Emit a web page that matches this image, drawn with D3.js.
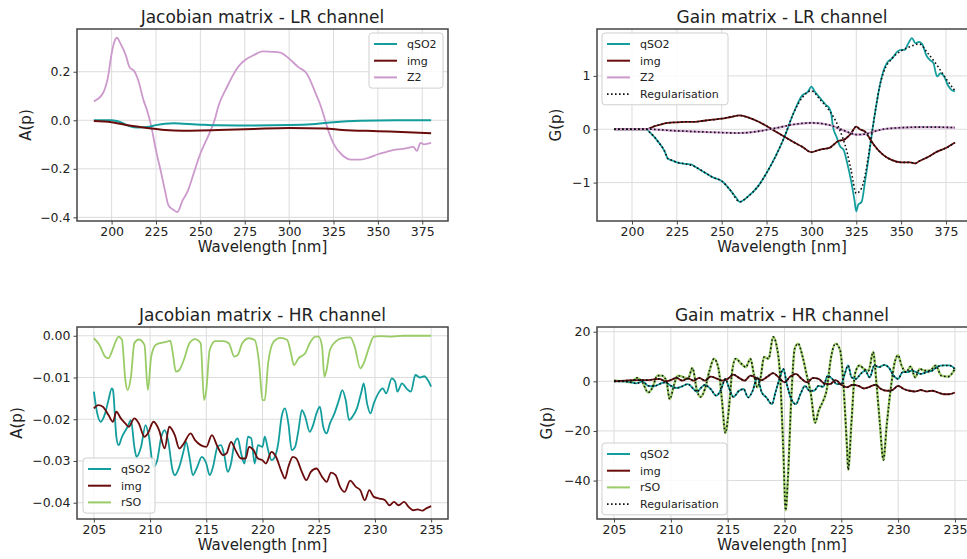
<!DOCTYPE html>
<html><head><meta charset="utf-8">
<script src="https://cdn.jsdelivr.net/npm/d3@7"></script>
<style>body{margin:0;background:#fff}svg{display:block;font-family:"DejaVu Sans",sans-serif}</style>
</head><body><svg id="c" width="967" height="559"></svg>
<script>
// ---------- DATA ----------
const colQ = "#139d9d", colImg = "#6b0c0c", colZ2 = "#cc99cc", colRSO = "#99cc66";

// Jacobian LR
const jlrZ2Wl = [190,195,198,200,202,203,205,208,210,213,215,218,220,222,225,228,230,232,235,237,240,243,245,250,255,258,260,265,270,273,275,280,285,290,295,300,305,310,315,318,320,322,325,330,335,340,345,350,355,360,365,370,372,374,376,380];
const jlrZ2 = [0.078,0.11,0.18,0.275,0.332,0.34,0.316,0.268,0.22,0.2,0.165,0.082,0.04,-0.014,-0.124,-0.22,-0.288,-0.35,-0.37,-0.378,-0.33,-0.29,-0.247,-0.137,-0.055,0,0.055,0.137,0.206,0.234,0.247,0.268,0.284,0.282,0.279,0.254,0.22,0.192,0.11,0.055,0.007,-0.041,-0.096,-0.144,-0.162,-0.162,-0.154,-0.14,-0.13,-0.121,-0.117,-0.11,-0.126,-0.093,-0.099,-0.093];
const jlrQWl = [190,195,200,205,210,215,220,225,230,235,240,250,260,275,300,315,325,340,360,380];
const jlrQ = [0,0,0,-0.008,-0.024,-0.03,-0.028,-0.02,-0.014,-0.012,-0.014,-0.018,-0.021,-0.022,-0.02,-0.015,-0.008,-0.002,0,0];
const jlrImgWl = [190,200,210,220,230,240,250,260,280,300,320,330,350,370,380];
const jlrImg = [-0.003,-0.008,-0.022,-0.032,-0.04,-0.043,-0.042,-0.04,-0.036,-0.032,-0.034,-0.04,-0.045,-0.05,-0.053];

// Gain LR
const glrQWl = [190,200,208,210,215,218,220,222,225,230,233,235,240,245,250,255,258,260,265,270,275,280,285,290,295,298,300,302,305,308,310,311,312,314,316,318,320,322,324,325,326,328,330,332,334,336,338,340,342,345,348,350,352,354,356,358,360,362,364,366,368,370,372,374,376,378,380];
const glrQ = [0,0,0,-0.06,-0.25,-0.4,-0.55,-0.58,-0.62,-0.65,-0.66,-0.7,-0.8,-0.9,-0.97,-1.15,-1.28,-1.36,-1.25,-1.08,-0.82,-0.51,-0.14,0.3,0.64,0.7,0.8,0.7,0.58,0.46,0.39,0.3,0.05,-0.14,-0.32,-0.39,-0.64,-0.95,-1.33,-1.54,-1.42,-1.36,-0.95,-0.51,-0.01,0.42,0.8,1.08,1.24,1.33,1.46,1.49,1.49,1.61,1.71,1.61,1.64,1.58,1.39,1.3,1.24,0.99,1.05,0.99,0.83,0.74,0.71];
const glrRegQWl = [190,200,208,210,215,218,220,222,225,230,235,240,245,250,255,260,265,270,275,280,285,290,295,300,305,310,315,320,322,325,328,330,332,334,336,338,340,345,350,355,360,365,370,375,380];
const glrRegQ = [0,0,0,-0.06,-0.25,-0.4,-0.55,-0.58,-0.62,-0.65,-0.7,-0.8,-0.9,-0.97,-1.15,-1.36,-1.25,-1.08,-0.82,-0.51,-0.14,0.3,0.6,0.72,0.55,0.35,0.05,-0.45,-0.75,-1.2,-1.1,-0.85,-0.45,-0.01,0.42,0.8,1.05,1.33,1.47,1.55,1.6,1.42,1.2,0.95,0.72];
const glrImgWl = [190,208,212,215,220,225,230,235,240,245,250,255,260,265,270,275,280,285,290,295,300,303,305,310,312,315,318,320,322,325,327,330,333,335,340,345,350,355,358,360,365,370,375,380];
const glrImg = [0,0,0.05,0.08,0.12,0.13,0.14,0.14,0.16,0.18,0.2,0.23,0.26,0.22,0.15,0.06,-0.04,-0.14,-0.24,-0.33,-0.43,-0.4,-0.38,-0.35,-0.3,-0.22,-0.2,-0.15,-0.08,0.05,0.0,-0.05,-0.2,-0.3,-0.48,-0.58,-0.62,-0.62,-0.64,-0.6,-0.52,-0.42,-0.35,-0.25];
const glrZ2Wl = [190,210,220,240,260,270,280,290,300,310,315,320,325,330,335,340,350,360,370,380];
const glrZ2 = [0,0,-0.02,-0.05,-0.07,-0.04,0.02,0.09,0.12,0.08,0.02,-0.05,-0.1,-0.09,-0.04,0,0.03,0.04,0.04,0.03];

// Jacobian HR
const jhrRsoWl = [205.0,205.5,206.0,206.3,206.6,207.0,207.2,207.5,207.8,208.0,208.3,208.6,209.0,209.5,209.8,210.1,210.5,211.0,211.5,211.8,212.0,212.3,212.6,213.0,213.5,214.0,214.5,214.8,215.0,215.3,215.8,216.5,217.0,217.5,217.8,218.2,218.8,219.3,219.7,220.0,220.2,220.5,221.0,221.6,222.2,222.5,222.8,223.2,223.8,224.2,224.7,225.0,225.3,225.5,225.7,226.0,226.5,227.0,227.8,228.2,228.7,229.0,229.5,229.9,230.5,231.5,232.5,235.0];
const jhrRso = [-0.0006,-0.0022,-0.005,-0.0054,-0.0038,-0.001,-0.0002,-0.001,-0.0106,-0.013,-0.0098,-0.0018,-0.0009,-0.0022,-0.013,-0.005,-0.0022,-0.0017,-0.0014,-0.0012,-0.0038,-0.0086,-0.0082,-0.0058,-0.0018,-0.0008,-0.0018,-0.0154,-0.013,-0.0034,-0.0013,-0.0013,-0.0018,-0.005,-0.0046,-0.0018,-0.0006,-0.001,-0.0066,-0.0154,-0.0154,-0.0066,-0.0014,-0.0005,-0.001,-0.0038,-0.007,-0.0054,-0.0042,-0.0018,-0.0002,-0.0002,-0.0026,-0.0098,-0.0082,-0.0034,-0.0014,-0.0006,-0.0004,-0.0026,-0.0078,-0.0066,-0.0026,-0.0002,-0.0001,-0.0002,0,0];
const jhrQWl = [205.0,205.3,205.6,206.0,206.3,206.6,206.7,207.0,207.2,207.5,208.0,208.3,208.6,208.8,209.2,209.6,209.9,210.3,210.6,211.0,211.3,211.6,212.0,212.2,212.6,213.0,213.2,213.5,213.8,214.2,214.6,215.0,215.3,215.6,216.0,216.3,216.6,216.9,217.2,217.5,217.8,218.1,218.4,218.7,219.0,219.3,219.6,220.0,220.2,220.5,220.8,221.1,221.4,221.7,222.0,222.3,222.6,222.9,223.2,223.5,223.8,224.2,224.5,224.8,225.1,225.4,225.7,226.0,226.4,226.8,227.1,227.4,227.7,228.0,228.4,228.8,229.0,229.3,229.6,229.9,230.3,230.7,231.0,231.5,231.8,232.0,232.4,232.8,233.2,233.6,234.0,234.4,234.7,235.0];
const jhrQ = [-0.0134,-0.0186,-0.0206,-0.0186,-0.0154,-0.0126,-0.013,-0.0242,-0.0262,-0.0242,-0.0218,-0.0202,-0.0266,-0.029,-0.0266,-0.0214,-0.0242,-0.0314,-0.0302,-0.0242,-0.0226,-0.025,-0.0322,-0.0334,-0.0314,-0.0274,-0.0254,-0.029,-0.0334,-0.0314,-0.029,-0.0306,-0.0334,-0.0314,-0.0266,-0.0262,-0.0286,-0.0326,-0.0306,-0.0258,-0.0246,-0.0282,-0.0306,-0.0242,-0.0246,-0.0306,-0.0262,-0.0266,-0.0242,-0.0274,-0.0298,-0.029,-0.0258,-0.0194,-0.0174,-0.021,-0.0274,-0.0266,-0.0226,-0.0178,-0.0194,-0.023,-0.0214,-0.0186,-0.017,-0.0218,-0.0234,-0.021,-0.0186,-0.0154,-0.013,-0.0154,-0.0202,-0.0194,-0.0174,-0.0134,-0.0114,-0.0162,-0.0186,-0.0162,-0.0138,-0.0126,-0.0138,-0.0102,-0.011,-0.0134,-0.0114,-0.0126,-0.0134,-0.0094,-0.01,-0.0097,-0.0106,-0.0122];
const jhrImgWl = [205.0,205.4,205.8,206.3,206.7,207.0,207.4,207.8,208.1,208.6,209.0,209.5,209.8,210.3,210.8,211.3,211.7,212.2,212.6,213.0,213.6,214.0,214.5,215.0,215.5,216.0,216.5,216.8,217.2,217.6,218.1,218.5,218.8,219.2,219.6,220.0,220.3,220.8,221.2,221.7,222.0,222.3,222.7,223.0,223.5,223.9,224.3,224.8,225.3,225.7,226.1,226.5,226.9,227.3,227.8,228.3,228.7,229.1,229.5,229.9,230.4,230.9,231.3,231.7,232.1,232.6,233.0,233.4,233.8,234.2,234.6,235.0];
const jhrImg = [-0.0174,-0.0166,-0.017,-0.019,-0.0206,-0.0182,-0.0198,-0.021,-0.0218,-0.0198,-0.021,-0.0242,-0.0234,-0.0206,-0.0226,-0.027,-0.0218,-0.0238,-0.027,-0.0258,-0.0234,-0.025,-0.0262,-0.0266,-0.0238,-0.0266,-0.0286,-0.0282,-0.0254,-0.0274,-0.0294,-0.0294,-0.0266,-0.0274,-0.0294,-0.0298,-0.0306,-0.0278,-0.029,-0.0326,-0.0342,-0.0314,-0.029,-0.0294,-0.0326,-0.0346,-0.0326,-0.0318,-0.0338,-0.035,-0.0328,-0.0334,-0.0362,-0.0374,-0.0347,-0.0362,-0.037,-0.0394,-0.037,-0.0386,-0.039,-0.0394,-0.0406,-0.0398,-0.0406,-0.0398,-0.041,-0.0418,-0.0416,-0.0419,-0.0413,-0.0408];

// Gain HR
const ghrRsoWl = [205.0,206.0,206.5,207.0,207.5,208.0,208.4,208.8,209.2,209.6,209.9,210.3,210.6,211.0,211.5,211.9,212.3,212.6,213.0,213.4,213.8,214.2,214.5,214.8,215.1,215.4,215.7,216.2,216.6,217.0,217.3,217.6,217.9,218.2,218.6,219.0,219.3,219.6,219.9,220.1,220.3,220.6,220.9,221.2,221.6,222.0,222.3,222.7,223.0,223.4,223.7,224.1,224.5,224.9,225.2,225.5,225.6,225.9,226.2,226.6,227.0,227.4,227.8,228.1,228.4,228.7,229.0,229.4,229.7,230.0,230.3,230.7,231.1,231.5,231.9,232.3,232.8,233.3,233.8,234.4,235.0];
const ghrRso = [0.3,0,-0.4,1.4,-0.4,-4.5,-2.4,2.3,2.3,0.3,-7.2,-1.1,2.3,1.9,1.0,5.4,-3.8,-6.3,-3.1,4.3,9.1,5.0,-7.9,-20.8,-11.3,4.3,9.1,7.1,5.7,9.1,3.0,-2.4,1.6,9.8,9.1,17.9,14.5,3.0,-28.3,-52,-39.1,-6.5,13.2,15.2,9.8,1.6,-4.5,-16.7,-11.9,-7.9,-3.8,9.8,15.2,12.5,-2.4,-26.9,-35.7,-16,3.0,6.4,5.0,4.3,11.8,-1.1,-17.4,-31.7,-17.4,-1.1,7.7,10.5,6.4,3.7,6.0,1.6,5.0,4.3,4.3,6.4,2.3,1.9,5.0];
const ghrQWl = [205.0,206.0,207.0,207.5,208.0,208.5,209.0,209.5,210.0,210.5,211.0,211.5,212.0,212.3,212.7,213.0,213.5,214.0,214.4,214.8,215.1,215.5,216.0,216.4,216.8,217.2,217.6,218.0,218.4,218.9,219.2,219.6,219.9,220.2,220.6,221.0,221.4,221.8,222.2,222.6,223.0,223.4,223.8,224.2,224.6,225.0,225.3,225.6,225.9,226.3,226.7,227.1,227.5,227.9,228.3,228.8,229.2,229.6,230.0,230.4,230.8,231.2,231.6,232.0,232.5,233.0,233.5,234.0,234.5,235.0];
const ghrQ = [0,0,-0.8,0,-1.8,-2.0,-1.1,-0.4,-1.8,-2.7,-2.0,-1.1,-3.1,-4.2,-2.4,-1.4,-3.1,-5.8,-3.5,1.0,-2.4,-6.3,-3.8,-3.1,-6.5,-3.8,1.6,-4.5,-6.5,-9.2,-4.5,1.6,5.0,-1.1,-7.2,-9.2,-5.2,-1.8,-3.8,-3.8,-1.8,-2.2,2.3,1.0,-1.1,-1.1,3.0,6.4,1.6,1.0,3.0,4.3,1.6,6.4,5.7,6.6,5.4,2.3,1.0,3.7,3.7,4.3,3.7,3.0,3.7,4.3,6.0,6.4,6.4,5.0];
const ghrImgWl = [205,206,207,208,209,209.5,210,210.5,211,211.5,212,212.5,213,213.5,214,214.5,215,215.5,216,216.5,217,217.5,218,218.5,219,219.5,220,220.5,221,221.5,222,222.5,223,223.5,224,224.5,225,225.5,226,226.5,227,227.5,228,228.5,229,229.5,230,230.5,231,231.5,232,232.5,233,233.5,234,234.5,235];
const ghrImg = [0,0.3,0.5,0.5,1.0,0,0.5,1.4,0.3,1.2,0.3,1.4,0.3,1.9,1.2,0.3,1.0,2.7,1.4,0.3,2.3,1.4,0.5,1.9,3.3,1.6,-0.4,1.9,3.0,1.0,-0.4,1.4,1.0,-0.8,-1.1,0.5,-1.4,-2.4,-1.4,-1.8,-2.9,-2.2,-1.4,-3.1,-3.8,-3.5,-1.8,-3.1,-3.8,-4.1,-3.5,-4.1,-3.8,-4.5,-5.2,-5.2,-4.5];

// Ticks
const lrXTicks = [200,225,250,275,300,325,350,375];
const hrXTicks = [205,210,215,220,225,230,235];
const jlrYTicks = [-0.4,-0.2,0.0,0.2];
const glrYTicks = [-1,0,1];
const jhrYTicks = [-0.04,-0.03,-0.02,-0.01,0.00];
const ghrYTicks = [-40,-20,0,20];

// ---------- DRAW ----------
const svg = d3.select("#c");
const minus = s => s.replace(/-/g, "\u2212");
const zip = (xs, ys) => xs.map((x, i) => [x, ys[i]]);

function panel(o) {
  const x = d3.scaleLinear().domain(o.xd).range([o.l, o.r]);
  const y = d3.scaleLinear().domain(o.yd).range([o.b, o.t]);
  const g = svg.append("g");
  const clipId = "clip" + Math.random().toString(36).slice(2);
  g.append("clipPath").attr("id", clipId).append("rect")
    .attr("x", o.l).attr("y", o.t).attr("width", o.r - o.l).attr("height", o.b - o.t);
  g.selectAll(".gx").data(o.xt).join("line")
    .attr("x1", d => x(d)).attr("x2", d => x(d)).attr("y1", o.t).attr("y2", o.b)
    .attr("stroke", "#dcdcdc").attr("stroke-width", 1);
  g.selectAll(".gy").data(o.yt).join("line")
    .attr("y1", d => y(d)).attr("y2", d => y(d)).attr("x1", o.l).attr("x2", o.r)
    .attr("stroke", "#dcdcdc").attr("stroke-width", 1);
  const ax = g.append("g").attr("transform", `translate(0,${o.b})`)
    .call(d3.axisBottom(x).tickValues(o.xt).tickSize(3.5).tickPadding(3).tickFormat(d3.format("d")));
  const ay = g.append("g").attr("transform", `translate(${o.l},0)`)
    .call(d3.axisLeft(y).tickValues(o.yt).tickSize(3.5).tickPadding(3).tickFormat(d => minus(o.yf(d))));
  [ax, ay].forEach(a => {
    a.select(".domain").remove();
    a.selectAll("text").attr("font-size", 12.5).attr("fill", "#222").attr("font-family", "DejaVu Sans");
    a.selectAll("line").attr("stroke", "#444");
  });
  const lg = g.append("g").attr("clip-path", `url(#${clipId})`);
  o.series.forEach(s => {
    const line = d3.line().x(d => x(d[0])).y(d => y(d[1])).curve(o.curve || d3.curveLinear);
    lg.append("path").attr("d", line(zip(s.wl, s.v))).attr("fill", "none")
      .attr("stroke", s.c).attr("stroke-width", s.w || 1.8)
      .attr("stroke-dasharray", s.dash || null).attr("stroke-linejoin", "round");
  });
  g.append("rect").attr("x", o.l).attr("y", o.t).attr("width", o.r - o.l).attr("height", o.b - o.t)
    .attr("fill", "none").attr("stroke", "#444").attr("stroke-width", 1.5);
  g.append("text").attr("x", (o.l + o.r0) / 2).attr("y", o.t - 6).attr("text-anchor", "middle")
    .attr("font-size", 17).attr("fill", "#222").text(o.title);
  g.append("text").attr("x", (o.l + o.r0) / 2).attr("y", o.b + 31).attr("text-anchor", "middle")
    .attr("font-size", 15).attr("fill", "#222").text("Wavelength [nm]");
  g.append("text").attr("transform", `translate(${o.yl},${(o.t + o.b) / 2}) rotate(-90)`)
    .attr("text-anchor", "middle").attr("font-size", 15).attr("fill", "#222").text(o.ylab);
  const L = o.leg;
  const lgd = g.append("g");
  lgd.append("rect").attr("x", L.x).attr("y", L.y).attr("width", L.w).attr("height", L.items.length * 16.7 + 5)
    .attr("rx", 3).attr("fill", "rgba(255,255,255,0.85)").attr("stroke", "#cfcfcf").attr("stroke-width", 1);
  L.items.forEach((it, i) => {
    const yy = L.y + 11 + i * 16.7;
    lgd.append("line").attr("x1", L.x + 5).attr("x2", L.x + 28).attr("y1", yy).attr("y2", yy)
      .attr("stroke", it.c).attr("stroke-width", it.dash ? 1.6 : 2).attr("stroke-dasharray", it.dash || null);
    lgd.append("text").attr("x", L.x + 38).attr("y", yy + 4).attr("font-size", 11).attr("fill", "#222").text(it.n);
  });
}

const dot = "1.6,2.4";

panel({
  l: 77, r: 448, r0: 448, t: 29, b: 221, xd: [180.5, 389.5], yd: [-0.415, 0.376],
  xt: lrXTicks, yt: jlrYTicks, yf: d3.format(".1f"), yl: 31, ylab: "A(p)",
  title: "Jacobian matrix - LR channel",
  series: [
    {wl: jlrZ2Wl, v: jlrZ2, c: colZ2},
    {wl: jlrQWl, v: jlrQ, c: colQ, w: 2},
    {wl: jlrImgWl, v: jlrImg, c: colImg, w: 2}
  ],
  curve: d3.curveMonotoneX,
  leg: {x: 369, y: 33, w: 74, items: [{n: "qSO2", c: colQ}, {n: "img", c: colImg}, {n: "Z2", c: colZ2}]}
});

panel({
  l: 597, r: 972, r0: 967, t: 29, b: 221, xd: [180.5, 389.5], yd: [-1.72, 1.88],
  xt: lrXTicks, yt: glrYTicks, yf: d3.format("d"), yl: 561, ylab: "G(p)",
  title: "Gain matrix - LR channel",
  series: [
    {wl: glrQWl, v: glrQ, c: colQ},
    {wl: glrImgWl, v: glrImg, c: colImg},
    {wl: glrZ2Wl, v: glrZ2, c: colZ2, w: 2.2},
    {wl: glrRegQWl, v: glrRegQ, c: "#111", dash: dot, w: 1.6},
    {wl: glrImgWl, v: glrImg, c: "#111", dash: dot, w: 1.6},
    {wl: glrZ2Wl, v: glrZ2, c: "#111", dash: dot, w: 1.6}
  ],
  curve: d3.curveMonotoneX,
  leg: {x: 602, y: 33, w: 126, items: [{n: "qSO2", c: colQ}, {n: "img", c: colImg}, {n: "Z2", c: colZ2}, {n: "Regularisation", c: "#111", dash: dot}]}
});

panel({
  l: 77, r: 448, r0: 448, t: 327, b: 519, xd: [203.5, 236.5], yd: [-0.0439, 0.0021],
  xt: hrXTicks, yt: jhrYTicks, yf: d3.format(".2f"), yl: 22, ylab: "A(p)",
  title: "Jacobian matrix - HR channel",
  series: [
    {wl: jhrQWl, v: jhrQ, c: colQ},
    {wl: jhrImgWl, v: jhrImg, c: colImg},
    {wl: jhrRsoWl, v: jhrRso, c: colRSO}
  ],
  curve: d3.curveMonotoneX,
  leg: {x: 83, y: 458, w: 72, items: [{n: "qSO2", c: colQ}, {n: "img", c: colImg}, {n: "rSO", c: colRSO}]}
});

panel({
  l: 597, r: 972, r0: 967, t: 327, b: 519, xd: [203.5, 236.5], yd: [-55.5, 21.9],
  xt: hrXTicks, yt: ghrYTicks, yf: d3.format("d"), yl: 552, ylab: "G(p)",
  title: "Gain matrix - HR channel",
  series: [
    {wl: ghrRsoWl, v: ghrRso, c: colRSO, w: 2.4},
    {wl: ghrQWl, v: ghrQ, c: colQ},
    {wl: ghrImgWl, v: ghrImg, c: colImg},
    {wl: ghrRsoWl, v: ghrRso, c: "#111", dash: dot, w: 1.6},
    {wl: ghrQWl, v: ghrQ, c: "#111", dash: dot, w: 1.6},
    {wl: ghrImgWl, v: ghrImg, c: "#111", dash: dot, w: 1.6}
  ],
  curve: d3.curveMonotoneX,
  leg: {x: 602, y: 443, w: 125, items: [{n: "qSO2", c: colQ}, {n: "img", c: colImg}, {n: "rSO", c: colRSO}, {n: "Regularisation", c: "#111", dash: dot}]}
});
</script></body></html>
